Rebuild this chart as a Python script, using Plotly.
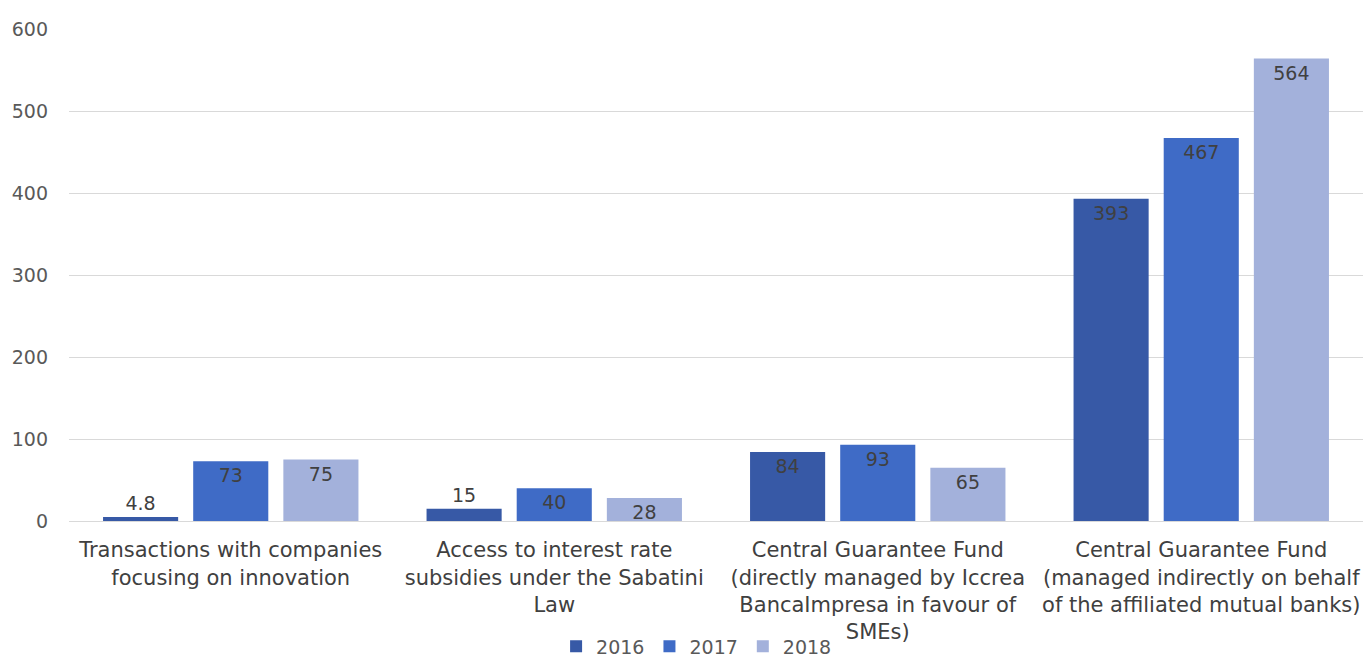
import plotly.graph_objects as go

categories = [
    "Transactions with companies<br>focusing on innovation",
    "Access to interest rate<br>subsidies under the Sabatini<br>Law",
    "Central Guarantee Fund<br>(directly managed by Iccrea<br>BancaImpresa in favour of<br>SMEs)",
    "Central Guarantee Fund<br>(managed indirectly on behalf<br>of the affiliated mutual banks)",
]
years = ["2016", "2017", "2018"]
values_2016 = [4.8, 15, 84, 393]
values_2017 = [73, 40, 93, 467]
values_2018 = [75, 28, 65, 564]
y_ticks = [0, 100, 200, 300, 400, 500, 600]

series = [values_2016, values_2017, values_2018]
colors = ["#3759a6", "#3f6bc6", "#a3b1db"]
FONT = "DejaVu Sans"
TEXT = "#404040"

fig = go.Figure()
for name, vals, col in zip(years, series, colors):
    positions = ["outside" if v < 20 else "inside" for v in vals]
    fig.add_trace(go.Bar(
        name=name,
        x=categories,
        y=vals,
        marker=dict(color=col, line=dict(width=0)),
        text=[f"{v:g}" for v in vals],
        textposition=positions,
        textangle=0,
        insidetextanchor="end",
        constraintext="none",
        cliponaxis=False,
        textfont=dict(family=FONT, size=19, color=TEXT),
        outsidetextfont=dict(family=FONT, size=19, color=TEXT),
        insidetextfont=dict(family=FONT, size=19, color=TEXT),
    ))

fig.update_layout(
    width=1363,
    height=661,
    margin=dict(l=69, r=0, t=29, b=140),
    paper_bgcolor="white",
    plot_bgcolor="white",
    barmode="group",
    bargap=0.164,
    bargroupgap=0.167,
    font=dict(family=FONT, size=19, color=TEXT),
    legend=dict(
        orientation="h",
        x=0.485, xanchor="center",
        yref="container",
        y=0.022, yanchor="middle",
        font=dict(family=FONT, size=19, color="#595959"),
        itemwidth=30,
        traceorder="normal",
    ),
    xaxis=dict(
        automargin=False,
        showgrid=False,
        showline=True,
        linecolor="#d9d9d9",
        linewidth=1,
        ticks="",
        ticklabelstandoff=10,
        tickfont=dict(family=FONT, size=21, color=TEXT),
    ),
    yaxis=dict(
        automargin=False,
        range=[0, 600],
        tickvals=y_ticks,
        showgrid=True,
        gridcolor="#d9d9d9",
        gridwidth=1,
        zeroline=False,
        ticks="",
        ticklen=0,
        ticklabelstandoff=20,
        tickfont=dict(family=FONT, size=19, color="#595959"),
    ),
)

fig.write_html("out.html")
